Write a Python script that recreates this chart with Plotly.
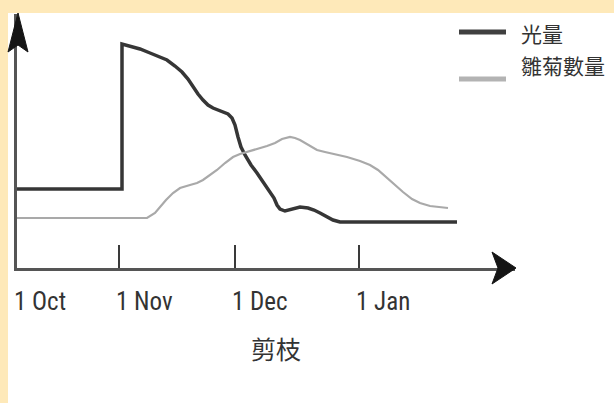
import plotly.graph_objects as go

# ---- data (schematic units: x from 1 Oct, y relative level) ----
tick_positions = [0, 102, 218, 342]
tick_labels = ["1 Oct", "1 Nov", "1 Dec", "1 Jan"]

light_x = [0, 105, 105, 113, 123, 133, 143, 150, 158, 165, 171, 176, 181, 186, 191, 196, 203,
           211, 215, 218, 221, 224, 228, 234, 240, 246, 253, 257, 260, 263, 268, 275, 283,
           291, 297, 303, 310, 316, 323, 330, 440]
light_y = [79, 79, 224, 222, 219, 215, 211, 208, 202, 196, 189, 181, 174, 168, 163, 160, 157,
           154, 150, 143, 131, 121, 113, 103, 95, 86, 77, 70, 63, 59, 57, 59, 61,
           60, 58, 55, 51, 48, 46, 46, 46]

daisy_x = [0, 130, 138, 143, 149, 156, 163, 173, 180, 186, 193, 200, 208, 216, 223, 230, 240,
           250, 258, 265, 273, 278, 283, 291, 300, 308, 313, 323, 330, 343, 353, 361, 370,
           378, 386, 395, 403, 413, 423, 431]
daisy_y = [50, 50, 55, 61, 68, 75, 80, 83, 85, 88, 93, 98, 105, 111, 114, 116, 119,
           122, 125, 129, 131, 130, 128, 123, 118, 116, 115, 113, 111, 107, 103, 98, 90,
           83, 76, 69, 65, 62, 61, 60]

series_names = ["光量", "雛菊數量"]
x_title = "剪枝"

# ---- layout geometry ----
W, H = 614, 403
L, T, R, B = 17, 14, 515, 268


def px(x):
    return (x - L) / (R - L)


def py(y):
    return (B - y) / (B - T)


fig = go.Figure()
fig.add_trace(go.Scatter(x=light_x, y=light_y, mode="lines", name=series_names[0],
                         line=dict(color="#363636", width=3.5), showlegend=False))
fig.add_trace(go.Scatter(x=daisy_x, y=daisy_y, mode="lines", name=series_names[1],
                         line=dict(color="#a9a9a9", width=2.2), showlegend=False))

yellow = "#FEE9B9"
shapes = [
    dict(type="rect", xref="paper", yref="paper", x0=px(0), x1=px(8), y0=py(H), y1=py(0),
         fillcolor=yellow, line=dict(width=0), layer="below"),
    dict(type="rect", xref="paper", yref="paper", x0=px(0), x1=px(W), y0=py(13), y1=py(0),
         fillcolor=yellow, line=dict(width=0), layer="below"),
    # arrowheads
    dict(type="path", xref="paper", yref="paper",
         path=f"M {px(18)} {py(13)} L {px(8)} {py(52)} L {px(18)} {py(45)} L {px(28)} {py(52)} Z",
         fillcolor="#151515", line=dict(color="#151515", width=1)),
    dict(type="path", xref="paper", yref="paper",
         path=f"M {px(516)} {py(268)} L {px(492)} {py(252)} L {px(498)} {py(268)} L {px(492)} {py(284)} Z",
         fillcolor="#151515", line=dict(color="#151515", width=1)),
    # legend samples
    dict(type="line", xref="paper", yref="paper", x0=px(459), x1=px(506), y0=py(32), y1=py(32),
         line=dict(color="#404040", width=5)),
    dict(type="line", xref="paper", yref="paper", x0=px(459), x1=px(506), y0=py(79), y1=py(79),
         line=dict(color="#b3b3b3", width=5)),
]

tick_font = dict(family="Liberation Sans Narrow, Roboto Condensed, Arial Narrow, Liberation Sans",
                 size=25, color="#333333")
annotations = []
for tp, tl in zip(tick_positions, tick_labels):
    annotations.append(dict(x=tp, xref="x", y=py(301), yref="paper", text=tl, showarrow=False,
                            xanchor="left", yanchor="middle", xshift=-5, font=tick_font))
cjk = "Noto Sans CJK TC, Noto Sans CJK SC, sans-serif"
annotations.append(dict(x=px(519), y=py(33), xref="paper", yref="paper", text=series_names[0],
                        showarrow=False, xanchor="left", yanchor="middle",
                        font=dict(family=cjk, size=21, color="#333333")))
annotations.append(dict(x=px(519), y=py(65), xref="paper", yref="paper", text=series_names[1],
                        showarrow=False, xanchor="left", yanchor="middle",
                        font=dict(family=cjk, size=21, color="#333333")))
annotations.append(dict(x=px(276), y=py(348), xref="paper", yref="paper", text=x_title,
                        showarrow=False, xanchor="center", yanchor="middle",
                        font=dict(family=cjk, size=25, color="#333333")))

fig.update_layout(
    width=W, height=H,
    margin=dict(l=L, r=W - R, t=T, b=H - B, pad=0),
    paper_bgcolor="white", plot_bgcolor="white",
    shapes=shapes, annotations=annotations, showlegend=False,
    xaxis=dict(range=[0, R - L], showgrid=False, zeroline=False, showline=True,
               linecolor="#555555", linewidth=3, ticks="inside", ticklen=23, tickwidth=1.6,
               tickcolor="#3a3a3a", tickvals=tick_positions, showticklabels=False, fixedrange=True),
    yaxis=dict(range=[0, B - T], showgrid=False, zeroline=False, showline=True,
               linecolor="#555555", linewidth=3, ticks="", showticklabels=False, fixedrange=True),
)

fig.write_html("out.html", config=dict(displayModeBar=False),
               post_script="document.body.style.margin='0';document.body.style.overflow='hidden';")
